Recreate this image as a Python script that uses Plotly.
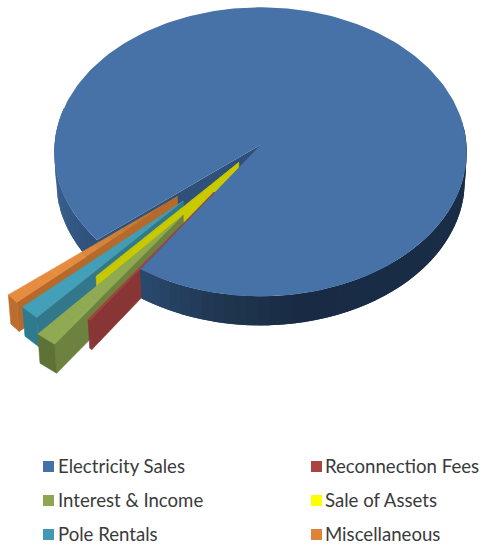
import math
import plotly.graph_objects as go

# Revenue shares, percent of the total
categories = ["Electricity Sales", "Reconnection Fees", "Interest & Income",
              "Sale of Assets", "Pole Rentals", "Miscellaneous"]
shares = [95.5, 0.2, 1.6, 0.2, 1.5, 1.0]

# Styling per slice
legend_colors = ["#4472A8", "#A94442", "#8DA64F", "#FFFF00", "#4298B2", "#DD8439"]
explode = [0.0, 0.39, 0.60, 0.16, 0.53, 0.53]
top_inner = ["#4672A8", "#A5413F", "#8DA850", "#C9C900", "#409AB2", "#B06C30"]
top_outer = ["#4672A8", "#A5413F", "#8FAA52", "#C9C900", "#42A0B8", "#E58C3F"]
side_colors = ["#2E5079", "#873535", "#6C823E", "#C9C900", "#33788A", "#B56A2B"]
end_colors = ["#2E5079", "#873535", "#5E7235", "#C9C900", "#2E7B90", "#BC6E2E"]

# Camera and pie proportions
START_BEARING = 230.3
RADIUS_PX, CX, CY = 206.0, 260.5, 145.0
SIN_E, COS_E, DIST = 0.70, 0.714, 15.0
HEIGHT = 0.20

WALL_STOPS = [(80, "#1A2E48"), (170, "#192B44"), (190, "#20364F"), (215, "#2A4A70"),
              (231, "#2E5079"), (270, "#3E6898"), (290, "#3E6898")]


def project(x, y, z):
    s = DIST / (DIST - y * COS_E - z * SIN_E)
    return CX + RADIUS_PX * s * x, CY + RADIUS_PX * s * (y * SIN_E - z * COS_E)


def ground(bearing, r, ox=0.0, oy=0.0):
    a = math.radians(bearing)
    return ox + r * math.sin(a), oy - r * math.cos(a)


def mix(c1, c2, t):
    a = [int(c1[i:i + 2], 16) for i in (1, 3, 5)]
    b = [int(c2[i:i + 2], 16) for i in (1, 3, 5)]
    return "#%02X%02X%02X" % tuple(round(p + (q - p) * t) for p, q in zip(a, b))


def wall_color(bearing):
    for (b0, c0), (b1, c1) in zip(WALL_STOPS, WALL_STOPS[1:]):
        if b0 <= bearing <= b1:
            return mix(c0, c1, (bearing - b0) / (b1 - b0))
    return WALL_STOPS[-1][1]


fig = go.Figure()


def polygon(points, color, stroke=0.6):
    fig.add_trace(go.Scatter(
        x=[p[0] for p in points] + [points[0][0]],
        y=[p[1] for p in points] + [points[0][1]],
        mode="lines", fill="toself", fillcolor=color,
        line=dict(color=color, width=stroke),
        hoverinfo="skip", showlegend=False,
    ))


def outer_wall(b0, b1, step=3.0):
    # Each segment overlaps its neighbour so no seams show between the shades
    n = max(1, int((b1 - b0) / step))
    for i in range(n):
        a0 = b0 + (b1 - b0) * i / n
        a1 = b0 + (b1 - b0) * (i + 1) / n
        lo, hi = a0, min(a1 + step, b1)
        arc = [ground(lo + (hi - lo) * t / 4, 1) for t in range(5)]
        polygon([project(*p, 0) for p in arc] + [project(*p, -HEIGHT) for p in reversed(arc)],
                wall_color((a0 + a1) / 2), stroke=0)


# Slice bearings, clockwise from the top of the pie
spans = []
bearing = START_BEARING
for share in shares:
    sweep = share * 3.6
    spans.append((bearing, bearing + sweep))
    bearing += sweep

main_start, main_end = spans[0]

# Far side of the large slice
outer_wall(main_start, 285)
p_edge = ground(main_start, 1)
polygon([project(0, 0, 0), project(*p_edge, 0), project(*p_edge, -HEIGHT), project(0, 0, -HEIGHT)],
        side_colors[0], stroke=0)

# Pulled-out slices, from the back towards the viewer
for idx in [5, 4, 3, 2, 1]:
    b0, b1 = spans[idx]
    b0, b1 = b0 % 360, b1 % 360
    mid = (b0 + b1) / 2
    ox, oy = ground(mid, explode[idx])
    apex = (ox, oy)
    lo = ground(b0, 1, ox, oy)
    # radial wall on the side facing the viewer
    polygon([project(*apex, 0), project(*lo, 0), project(*lo, -HEIGHT), project(*apex, -HEIGHT)],
            side_colors[idx])
    # rim of the slice
    rim = [ground(b0 + (b1 - b0) * t / 6, 1, ox, oy) for t in range(7)]
    polygon([project(*p, 0) for p in rim] + [project(*p, -HEIGHT) for p in reversed(rim)],
            end_colors[idx])
    # top face, shaded along its length
    steps = 12
    for j in range(steps):
        r0, r1 = j / steps, (j + 1) / steps
        arc = [ground(b0 + (b1 - b0) * t / 6, r1, ox, oy) for t in range(7)]
        inner = [ground(b0 + (b1 - b0) * t / 6, r0, ox, oy) for t in range(7)]
        polygon([project(*p, 0) for p in arc] + [project(*p, 0) for p in reversed(inner)],
                mix(top_inner[idx], top_outer[idx], min(1, (r0 / 0.6))))

# Near side and top of the large slice
outer_wall(80, main_end - 360)
top = [project(0, 0, 0)]
for i in range(241):
    a = main_start + (main_end - main_start) * i / 240
    top.append(project(*ground(a, 1), 0))
polygon(top, top_inner[0], stroke=0)

# Legend, two columns filled row by row
for i, (name, color) in enumerate(zip(categories, legend_colors)):
    row, col = i // 2, i % 2
    fig.add_trace(go.Scatter(
        x=[48.5 + col * 268], y=[466.5 + row * 34], mode="markers",
        marker=dict(symbol="square", size=11, color=color, line=dict(width=0)),
        hoverinfo="skip", showlegend=False, cliponaxis=False,
    ))
    fig.add_trace(go.Scatter(
        x=[58 + col * 267], y=[468 + row * 34], mode="text",
        text=[name], textposition="middle right",
        textfont=dict(family="Lato", size=18.6, color="#3A3A3A"),
        hoverinfo="skip", showlegend=False, cliponaxis=False,
    ))

fig.update_layout(
    width=484, height=545, margin=dict(l=0, r=0, t=0, b=0),
    paper_bgcolor="white", plot_bgcolor="white", showlegend=False,
    xaxis=dict(range=[0, 484], visible=False, fixedrange=True),
    yaxis=dict(range=[545, 0], visible=False, fixedrange=True),
)
fig.write_html("out.html", config={"displayModeBar": False})
